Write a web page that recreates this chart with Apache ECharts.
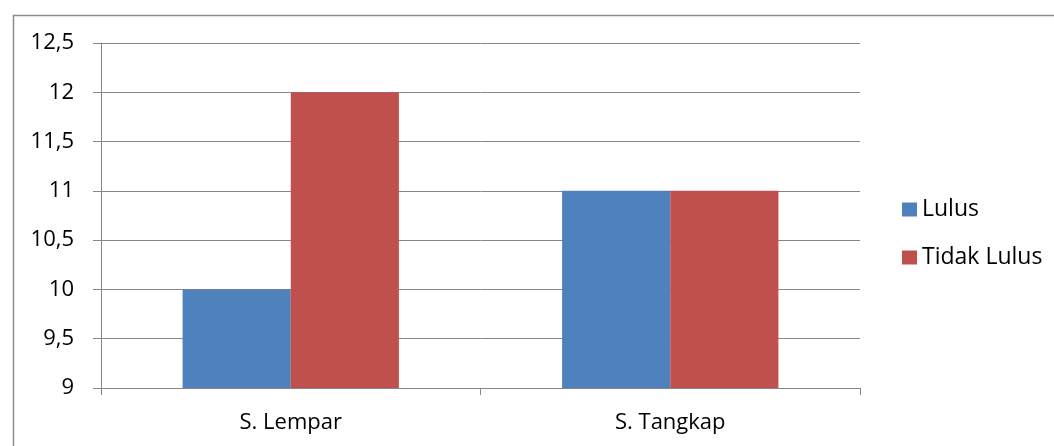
<!DOCTYPE html>
<html>
<head>
<meta charset="utf-8">
<script src="https://cdn.jsdelivr.net/npm/echarts@6/dist/echarts.min.js"></script>
<style>
  html, body { margin: 0; padding: 0; background: #fff; }
  #chart { width: 1054px; height: 446px; }
</style>
</head>
<body>
<div id="chart"></div>
<script>
// Results per test category
const categories = ['S. Lempar', 'S. Tangkap'];
const lulus = [10, 11];
const tidakLulus = [12, 11];
const seriesNames = ['Lulus', 'Tidak Lulus'];

const FONT = '"Open Sans", "Liberation Sans", sans-serif';
const GRID_GRAY = '#868686';

const chart = echarts.init(document.getElementById('chart'), null, { renderer: 'canvas' });

chart.setOption({
  backgroundColor: '#ffffff',
  animation: false,
  graphic: [{
    type: 'rect',
    left: 11, top: 13,
    shape: { width: 1200, height: 600 },
    style: { fill: 'none', stroke: '#8c8c8c', lineWidth: 1.5 },
    silent: true
  }],
  grid: { left: 101, right: 194, top: 43, bottom: 58 },
  legend: {
    orient: 'vertical',
    left: 897, top: 193,
    itemWidth: 15, itemHeight: 14,
    itemGap: 25,
    icon: 'rect',
    textStyle: { fontFamily: FONT, fontSize: 23, color: '#000' },
    data: seriesNames
  },
  xAxis: {
    type: 'category',
    data: categories,
    axisLine: { lineStyle: { color: GRID_GRAY, width: 1 } },
    axisTick: { show: true, length: 7, alignWithLabel: false, lineStyle: { color: GRID_GRAY } },
    axisLabel: { fontFamily: FONT, fontSize: 22, color: '#000', margin: 24 }
  },
  yAxis: {
    type: 'value',
    min: 9, max: 12.5, interval: 0.5,
    axisLine: { show: true, lineStyle: { color: GRID_GRAY, width: 1 } },
    axisTick: { show: true, length: 8, lineStyle: { color: GRID_GRAY } },
    splitLine: { lineStyle: { color: GRID_GRAY, width: 1 } },
    axisLabel: {
      fontFamily: FONT, fontSize: 22, color: '#000', margin: 27,
      formatter: v => String(v).replace('.', ',')
    }
  },
  series: [
    {
      name: seriesNames[0], type: 'bar', data: lulus,
      barGap: '0%', barCategoryGap: '43%',
      itemStyle: { color: '#4F81BD' }
    },
    {
      name: seriesNames[1], type: 'bar', data: tidakLulus,
      barGap: '0%', barCategoryGap: '43%',
      itemStyle: { color: '#C0504D' }
    }
  ]
});
</script>
</body>
</html>
